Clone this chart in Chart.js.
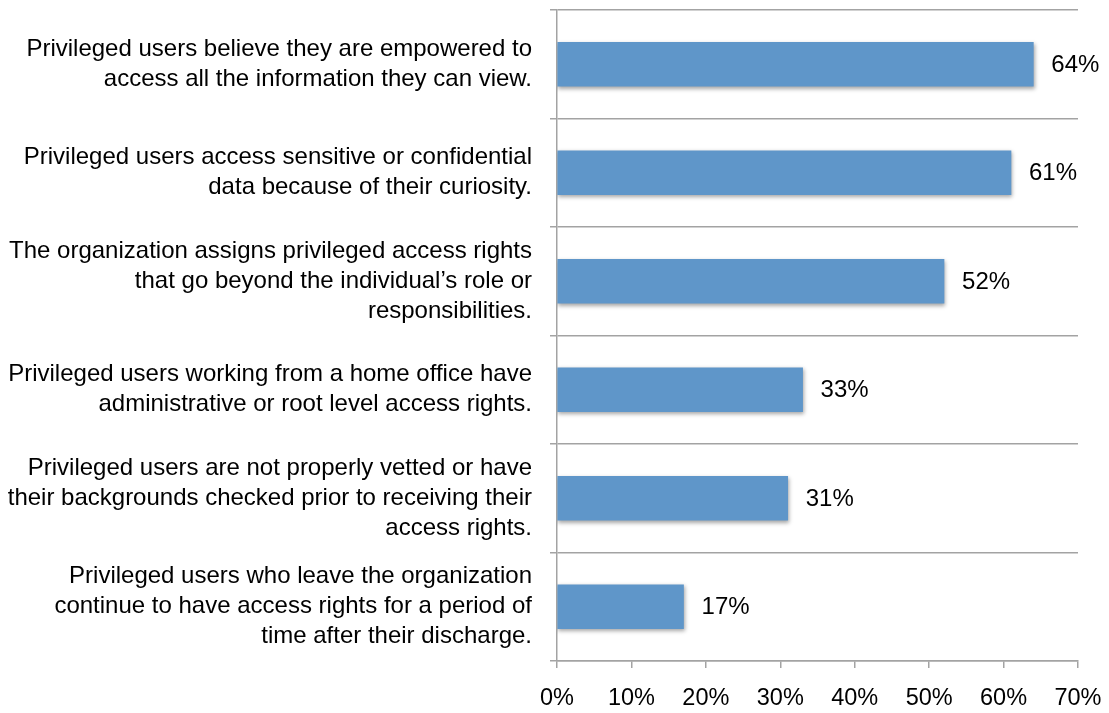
<!DOCTYPE html>
<html>
<head>
<meta charset="utf-8">
<script src="https://cdn.jsdelivr.net/npm/chart.js@4/dist/chart.umd.min.js"></script>
<style>
  html, body { margin: 0; padding: 0; background: #fff; }
  #wrap { width: 1109px; height: 713px; }
</style>
</head>
<body>
<div id="wrap"><canvas id="chart" width="1109" height="713"></canvas></div>
<script>
// statements, one multi-line label each
const statements = [
  ['Privileged users believe they are empowered to', 'access all the information they can view.'],
  ['Privileged users access sensitive or confidential', 'data because of their curiosity.'],
  ['The organization assigns privileged access rights', 'that go beyond the individual\u2019s role or', 'responsibilities.'],
  ['Privileged users working from a home office have', 'administrative or root level access rights.'],
  ['Privileged users are not properly vetted or have', 'their backgrounds checked prior to receiving their', 'access rights.'],
  ['Privileged users who leave the organization', 'continue to have access rights for a period of', 'time after their discharge.']
];
const percentages = [64, 61, 52, 33, 31, 17];
const axisMin = 0;
const axisMax = 70;
const axisStep = 10;

const FONT = '"Liberation Sans", Arial, Helvetica, sans-serif';
const GRID = '#a3a3a3';

// shadow under the bars + value labels at the bar ends
const barExtras = {
  id: 'barExtras',
  beforeDatasetsDraw(chart) {
    const ctx = chart.ctx;
    ctx.save();
    ctx.shadowColor = 'rgba(0, 0, 0, 0.35)';
    ctx.shadowBlur = 4;
    ctx.shadowOffsetX = 1;
    ctx.shadowOffsetY = 2;
  },
  afterDatasetsDraw(chart) {
    const ctx = chart.ctx;
    ctx.restore();
    ctx.save();
    ctx.font = '24px ' + FONT;
    ctx.fillStyle = '#000';
    ctx.textAlign = 'left';
    ctx.textBaseline = 'middle';
    chart.getDatasetMeta(0).data.forEach((bar, i) => {
      ctx.fillText(percentages[i] + '%', bar.x + 18, bar.y + 1);
    });
    ctx.restore();
  }
};

new Chart(document.getElementById('chart'), {
  type: 'bar',
  data: {
    labels: statements,
    datasets: [{
      data: percentages,
      backgroundColor: '#5f96c9',
      borderWidth: 0,
      barThickness: 44
    }]
  },
  options: {
    indexAxis: 'y',
    responsive: false,
    devicePixelRatio: 1,
    animation: false,
    layout: { padding: { top: 10, right: 31, left: 0, bottom: 0 } },
    plugins: {
      legend: { display: false },
      tooltip: { enabled: false }
    },
    scales: {
      x: {
        min: axisMin,
        max: axisMax,
        grid: {
          drawOnChartArea: false,
          drawTicks: true,
          tickLength: 7,
          color: GRID,
          lineWidth: 1.5
        },
        border: { color: GRID, width: 1.5 },
        ticks: {
          stepSize: axisStep,
          padding: 16,
          color: '#000',
          font: { family: FONT, size: 23.5, lineHeight: 1.2 },
          callback: v => v + '%'
        },
        afterFit(scale) {
          scale.height = 52;
          scale.paddingLeft = 0;
          scale.paddingRight = 0;
        }
      },
      y: {
        grid: {
          offset: true,
          tickLength: 7,
          color: GRID,
          lineWidth: 1.5
        },
        border: { color: GRID, width: 1.5 },
        ticks: {
          autoSkip: false,
          padding: 18,
          color: '#000',
          font: { family: FONT, size: 24, lineHeight: 1.25 }
        },
        afterFit(scale) {
          scale.width = 557;
          scale.paddingTop = 0;
          scale.paddingBottom = 0;
        }
      }
    }
  },
  plugins: [barExtras]
});
</script>
</body>
</html>
